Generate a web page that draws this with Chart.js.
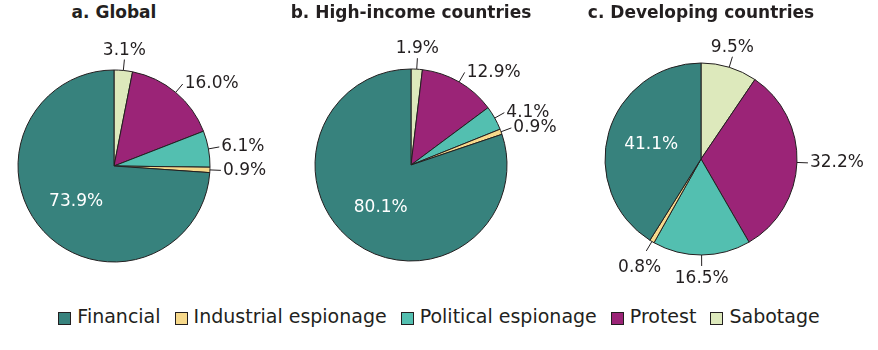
<!DOCTYPE html>
<html>
<head>
<meta charset="utf-8">
<script src="https://cdn.jsdelivr.net/npm/chart.js@4"></script>
<style>
  html, body { margin: 0; padding: 0; background: #fff; }
  #wrap { position: relative; width: 878px; height: 350px; overflow: hidden; font-family: 'DejaVu Sans', sans-serif; color: #231f20; }
  .pie { position: absolute; top: 0; }
  .ttl { position: absolute; top: 0; width: 340px; text-align: center; font-weight: bold; font-size: 17px; line-height: 24px; }
  #legend { position: absolute; left: 0; top: 304px; width: 878px; display: flex; justify-content: center; font-size: 19px; line-height: 24px; }
  #legend .item { display: flex; align-items: center; margin: 0 7px; }
  #legend .sw { width: 11px; height: 11px; border: 1px solid #231f20; margin-right: 6px; position: relative; top: 2px; }
</style>
</head>
<body>
<div id="wrap">
  <div id="legend"></div>
</div>
<script>
'use strict';

// shares by category (%), legend order
const categories = ['Financial', 'Industrial espionage', 'Political espionage', 'Protest', 'Sabotage'];
const colours = ['#37827d', '#f7d98b', '#53bfb0', '#9b2477', '#dde9bc'];
const globalShares = [73.9, 0.9, 6.1, 16.0, 3.1];
const highIncomeShares = [80.1, 0.9, 4.1, 12.9, 1.9];
const developingShares = [41.1, 0.8, 16.5, 32.2, 9.5];

const panels = [
  {title: 'a. Global', data: globalShares, cx: 114, cy: 166},
  {title: 'b. High-income countries', data: highIncomeShares, cx: 411, cy: 165},
  {title: 'c. Developing countries', data: developingShares, cx: 701, cy: 159}
];

const INK = '#231f20';
const CW = 340, CH = 300, R = 96;

// percent labels: white inside the Financial slice, leader lines for the rest
const sliceLabels = {
  id: 'sliceLabels',
  afterDatasetsDraw(chart) {
    const ctx = chart.ctx;
    const meta = chart.getDatasetMeta(0);
    const vals = chart.data.datasets[0].data;
    ctx.save();
    ctx.font = '17px "DejaVu Sans", sans-serif';
    meta.data.forEach((arc, i) => {
      const p = arc.getProps(['x', 'y', 'startAngle', 'endAngle', 'outerRadius'], true);
      const mid = (p.startAngle + p.endAngle) / 2;
      const dx = Math.cos(mid), dy = Math.sin(mid);
      const txt = vals[i].toFixed(1) + '%';
      if (chart.data.labels[i] === 'Financial') {
        ctx.fillStyle = '#fff';
        ctx.textAlign = 'center';
        ctx.textBaseline = 'middle';
        ctx.fillText(txt, p.x + dx * p.outerRadius * 0.54, p.y + dy * p.outerRadius * 0.54);
        return;
      }
      const sx = p.x + dx * p.outerRadius, sy = p.y + dy * p.outerRadius;
      const ex = p.x + dx * (p.outerRadius + 11), ey = p.y + dy * (p.outerRadius + 11);
      ctx.strokeStyle = INK;
      ctx.lineWidth = 1;
      ctx.beginPath();
      ctx.moveTo(sx, sy);
      ctx.lineTo(ex, ey);
      ctx.stroke();

      ctx.fillStyle = INK;
      const w = ctx.measureText(txt).width;
      let th = (mid + Math.PI / 2) % (2 * Math.PI);
      if (th < 0) th += 2 * Math.PI;
      if (th < 0.35 || th > 2 * Math.PI - 0.35) {
        // near 12 o'clock: centred above the line
        ctx.textAlign = 'center';
        ctx.textBaseline = 'alphabetic';
        ctx.fillText(txt, ex, ey - 5);
      } else if (Math.abs(th - Math.PI) < 0.6) {
        // near 6 o'clock: centred below the line
        ctx.textAlign = 'center';
        ctx.textBaseline = 'top';
        ctx.fillText(txt, ex + dx * w * 0.3, ey + 4 + Math.abs(dx) * 8);
      } else {
        ctx.textAlign = dx > 0 ? 'left' : 'right';
        ctx.textBaseline = 'middle';
        ctx.fillText(txt, ex + (dx > 0 ? 2 : -2), ey);
      }
    });
    ctx.restore();
  }
};

const wrap = document.getElementById('wrap');

panels.forEach(pn => {
  const t = document.createElement('div');
  t.className = 'ttl';
  t.style.left = (pn.cx - CW / 2) + 'px';
  t.textContent = pn.title;
  wrap.appendChild(t);

  const cv = document.createElement('canvas');
  cv.className = 'pie';
  cv.width = CW; cv.height = CH;
  cv.style.left = (pn.cx - CW / 2) + 'px';
  wrap.appendChild(cv);

  // slices run clockwise from 12 o'clock in reverse legend order
  const labels = categories.slice().reverse();
  new Chart(cv, {
    type: 'pie',
    data: {
      labels: labels,
      datasets: [{
        data: pn.data.slice().reverse(),
        backgroundColor: colours.slice().reverse(),
        borderColor: INK,
        borderWidth: 1
      }]
    },
    options: {
      responsive: false,
      devicePixelRatio: 1,
      animation: false,
      events: [],
      radius: R,
      layout: {padding: {top: 2 * pn.cy - CH, bottom: 0, left: 0, right: 0}},
      plugins: {legend: {display: false}, tooltip: {enabled: false}}
    },
    plugins: [sliceLabels]
  });
});

// shared legend
const lg = document.getElementById('legend');
categories.forEach((c, i) => {
  const it = document.createElement('div');
  it.className = 'item';
  it.innerHTML = `<span class="sw" style="background:${colours[i]}"></span><span>${c}</span>`;
  lg.appendChild(it);
});
</script>
</body>
</html>
